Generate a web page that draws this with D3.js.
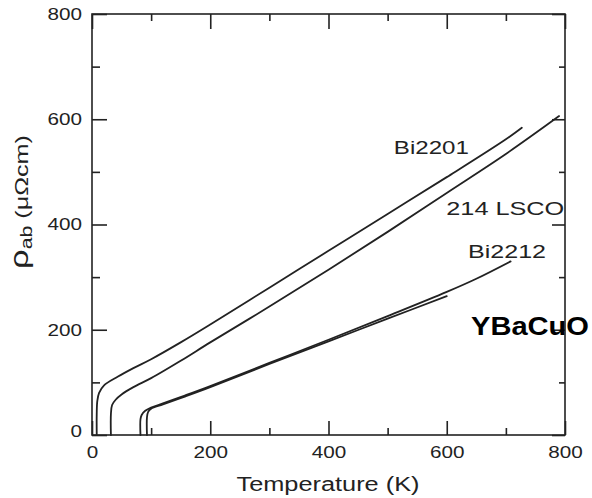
<!DOCTYPE html>
<html>
<head>
<meta charset="utf-8">
<script src="https://cdn.jsdelivr.net/npm/d3@7"></script>
<style>
  html, body { margin: 0; padding: 0; background: #fff; }
  svg { display: block; }
  text { font-family: "Liberation Sans", Arial, Helvetica, sans-serif; fill: #222; }
</style>
</head>
<body>
<svg id="chart" width="592" height="498"></svg>
<script>
// ---- data (Temperature K, rho_ab in micro-ohm cm) ----
const bi2201T   = [8, 8, 9, 12, 20, 44, 70, 100, 150, 200, 300, 400, 500, 600, 700, 727];
const bi2201Rho = [0, 40, 65, 80, 94, 111, 127, 144, 176, 210, 280, 350, 420, 490, 562, 584];

const lscoT   = [32, 32, 34, 40, 50, 70, 100, 150, 200, 300, 400, 500, 600, 700, 790];
const lscoRho = [0, 40, 57, 67, 77, 91, 108, 141, 176, 244, 314, 386, 460, 534, 606];

const bi2212T   = [82, 82, 84, 90, 100, 120, 157, 200, 300, 400, 500, 600, 650, 708];
const bi2212Rho = [0, 30, 38, 46, 52, 60, 75, 93, 137, 181, 226, 272, 297, 330];

const ybcoT   = [93, 93, 95, 100, 120, 157, 200, 300, 400, 500, 600];
const ybcoRho = [0, 34, 44, 50, 58, 73, 91, 135, 178, 221, 264];

const labels = [
  { text: "Bi2201",   T: 574, rho: 547, w: 75 },
  { text: "214 LSCO", T: 699, rho: 431, w: 118 },
  { text: "Bi2212",   T: 702, rho: 349, w: 78 }
];

const xMajor = [0, 200, 400, 600, 800];
const xMinor = [100, 300, 500, 700];
const yMajor = [0, 200, 400, 600, 800];
const yMinor = [100, 300, 500, 700];

// ---- layout ----
const svg = d3.select("#chart");
const x = d3.scaleLinear().domain([0, 800]).range([92, 565]);
const y = d3.scaleLinear().domain([0, 800]).range([435, 14]);
const ink = "#222";

// frame
svg.append("rect")
  .attr("x", x(0)).attr("y", y(800))
  .attr("width", x(800) - x(0)).attr("height", y(0) - y(800))
  .attr("fill", "none").attr("stroke", ink).attr("stroke-width", 1.6);

function styleAxis(g) {
  g.select(".domain").remove();
  g.selectAll(".tick line").attr("stroke", ink).attr("stroke-width", 1.6);
}

// bottom axis (labels + major ticks inward)
const gB = svg.append("g").attr("transform", `translate(0,${y(0)})`)
  .call(d3.axisBottom(x).tickValues(xMajor).tickSize(-14).tickPadding(11).tickFormat(d3.format("d")));
styleAxis(gB);
gB.selectAll("text").attr("font-size", 17).attr("fill", ink)
  .each(function(d){ d3.select(this).attr("textLength", String(d).length * 11.5).attr("lengthAdjust", "spacingAndGlyphs"); });
const gBm = svg.append("g").attr("transform", `translate(0,${y(0)})`)
  .call(d3.axisBottom(x).tickValues(xMinor).tickSize(-7).tickFormat(""));
styleAxis(gBm);

// top axis
const gT = svg.append("g").attr("transform", `translate(0,${y(800)})`)
  .call(d3.axisTop(x).tickValues(xMajor).tickSize(-15).tickFormat(""));
styleAxis(gT);
const gTm = svg.append("g").attr("transform", `translate(0,${y(800)})`)
  .call(d3.axisTop(x).tickValues(xMinor).tickSize(-7).tickFormat(""));
styleAxis(gTm);

// left axis
const gL = svg.append("g").attr("transform", `translate(${x(0)},0)`)
  .call(d3.axisLeft(y).tickValues(yMajor).tickSize(-15).tickPadding(10).tickFormat(d3.format("d")));
styleAxis(gL);
gL.selectAll("text").attr("font-size", 17).attr("fill", ink)
  .each(function(d){ d3.select(this).attr("textLength", String(d).length * 11.5).attr("lengthAdjust", "spacingAndGlyphs"); });
gL.selectAll(".tick").filter(d => d === 0).select("text").attr("dy", "0.1em");
const gLm = svg.append("g").attr("transform", `translate(${x(0)},0)`)
  .call(d3.axisLeft(y).tickValues(yMinor).tickSize(-8).tickFormat(""));
styleAxis(gLm);

// right axis
const gR = svg.append("g").attr("transform", `translate(${x(800)},0)`)
  .call(d3.axisRight(y).tickValues(yMajor).tickSize(-13).tickFormat(""));
styleAxis(gR);
const gRm = svg.append("g").attr("transform", `translate(${x(800)},0)`)
  .call(d3.axisRight(y).tickValues(yMinor).tickSize(-6).tickFormat(""));
styleAxis(gRm);

// curves
const line = d3.line().x(d => x(d[0])).y(d => y(d[1])).curve(d3.curveCatmullRom.alpha(0.5));
const series = [
  [bi2201T, bi2201Rho],
  [lscoT, lscoRho],
  [bi2212T, bi2212Rho],
  [ybcoT, ybcoRho]
];
series.forEach(([ts, rs]) => {
  svg.append("path")
    .datum(ts.map((t, i) => [t, rs[i]]))
    .attr("d", line)
    .attr("fill", "none").attr("stroke", ink).attr("stroke-width", 1.8)
    .attr("stroke-linejoin", "round").attr("stroke-linecap", "round");
});

// series labels
labels.forEach(l => {
  svg.append("text")
    .attr("x", x(l.T)).attr("y", y(l.rho))
    .attr("text-anchor", "middle").attr("dy", "0.36em")
    .attr("font-size", 19).attr("fill", ink)
    .attr("textLength", l.w).attr("lengthAdjust", "spacingAndGlyphs")
    .text(l.text);
});
svg.append("text")
  .attr("x", 530).attr("y", 326).attr("dy", "0.36em")
  .attr("text-anchor", "middle").attr("font-size", 26).attr("font-weight", "bold")
  .attr("fill", "#000").attr("textLength", 118).attr("lengthAdjust", "spacingAndGlyphs")
  .style("fill", "#000")
  .text("YBaCuO");

// axis titles
svg.append("text")
  .attr("x", 328).attr("y", 491)
  .attr("text-anchor", "middle").attr("font-size", 20).attr("fill", ink)
  .attr("textLength", 183).attr("lengthAdjust", "spacingAndGlyphs")
  .text("Temperature (K)");

const yl = svg.append("text")
  .attr("transform", "translate(28,202) rotate(-90)")
  .attr("text-anchor", "middle").attr("fill", ink)
  .attr("textLength", 134).attr("lengthAdjust", "spacingAndGlyphs");
yl.append("tspan").attr("font-size", 26).text("ρ");
yl.append("tspan").attr("font-size", 16).attr("dy", 4).text("ab");
yl.append("tspan").attr("font-size", 19).attr("dy", -4).text(" (μΩcm)");
</script>
</body>
</html>
